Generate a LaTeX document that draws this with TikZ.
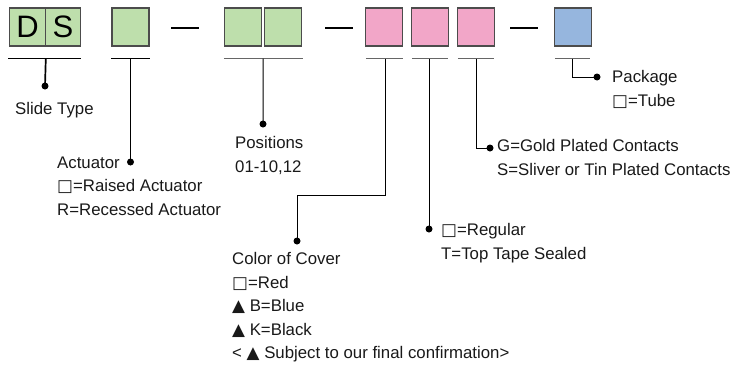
\documentclass[tikz,border=0pt]{standalone}
\usepackage{fontspec}
\setmainfont{Liberation Sans}
\newfontfamily\symfont{DejaVu Sans}
\usepackage{xcolor}
\usepackage{tikz}
\usetikzlibrary{positioning,calc}
\definecolor{codegreen}{RGB}{190,223,172}
\definecolor{codepink}{RGB}{242,166,200}
\definecolor{codeblue}{RGB}{150,182,222}
\newcommand{\blankcode}{{\symfont □}}
\newcommand{\tricode}{{\symfont ▲}}
\tikzset{
  codebox/.style={draw=black!70,line width=1.1pt,minimum width=37pt,minimum height=38pt,inner sep=0pt},
  letterbox/.style={codebox,minimum width=35.5pt,fill=codegreen,font=\fontsize{31}{31}\selectfont},
  greenbox/.style={codebox,fill=codegreen},
  pinkbox/.style={codebox,fill=codepink},
  bluebox/.style={codebox,fill=codeblue},
  boldrule/.style={line width=1.8pt},
  thinrule/.style={line width=1.3pt,draw=black!60},
  dashbar/.style={line width=1.8pt},
  boldleader/.style={line width=1.7pt},
  leader/.style={line width=1pt},
  enddot/.style={circle,fill=black,inner sep=0pt,minimum size=7pt},
  legend/.style={font=\fontsize{16.8}{23.5}\selectfont,align=left,anchor=north west,
    inner sep=0pt,text=black!90,execute at begin node=\strut}
}

\begin{document}
\begin{tikzpicture}[x=1pt,y=-1pt]
  \useasboundingbox (0,0) rectangle (744,370);
  % code boxes
  \node[letterbox] (d) at (27.5,27) {D};
  \node[letterbox] (s) at (63,27) {S};
  \node[greenbox] (act) at (130.5,27) {};
  \node[greenbox] (pos1) at (243,27) {};
  \node[greenbox] (pos2) at (283,27) {};
  \node[pinkbox] (col) at (384,27) {};
  \node[pinkbox] (seal) at (430,27) {};
  \node[pinkbox] (plate) at (476,27) {};
  \node[bluebox] (pkg) at (573,27) {};
  \draw[dashbar] (171,28) -- (199,28);
  \draw[dashbar] (325,28) -- (353,28);
  \draw[dashbar] (510,28) -- (538,28);
  % underlines
  \draw[boldrule] ($(d.south west)+(-1,12)$) -- ($(s.south east)+(0,12)$);
  \draw[boldrule] ($(act.south west)+(0,12)$) -- ($(act.south east)+(0,12)$);
  \draw[thinrule] ($(pos1.south west)+(0,12)$) -- ($(pos2.south east)+(1,12)$);
  \draw[thinrule] ($(col.south west)+(1,12)$) -- ($(col.south east)+(0,12)$);
  \draw[thinrule] ($(seal.south west)+(1,12)$) -- ($(seal.south east)+(-1,12)$);
  \draw[thinrule] ($(plate.south west)+(1,12)$) -- ($(plate.south east)+(-1,12)$);
  \draw[thinrule] ($(pkg.south west)+(1,12)$) -- ($(pkg.south east)+(-2,12)$);
  \coordinate (ds-tap) at ($(d.south east)+(0,12)$);
  \coordinate (act-tap) at ($(act.south)+(0,12)$);
  \coordinate (pos-tap) at ($(pos1.south east)!0.5!(pos2.south west)+(0,12)$);
  \coordinate (col-tap) at ($(col.south)+(1,12)$);
  \coordinate (seal-tap) at ($(seal.south)+(-1,12)$);
  \coordinate (plate-tap) at ($(plate.south)+(0,12)$);
  \coordinate (pkg-tap) at ($(pkg.south)+(-1,12)$);
  % dots
  \node[enddot] (ds-dot) at (45,86) {};
  \node[enddot] (act-dot) at (130.5,162) {};
  \node[enddot] (pos-dot) at (263,124) {};
  \coordinate (col-bend) at (297,195);
  \node[enddot] (col-dot) at (297,241) {};
  \node[enddot] (seal-dot) at (429,229) {};
  \node[enddot] (plate-dot) at (490,148) {};
  \node[enddot] (pkg-dot) at (597,77) {};
  % leaders
  \draw[boldleader] (ds-tap) -- (ds-dot.center);
  \draw[boldleader] (act-tap) -- (act-dot.center);
  \draw[leader] (pos-tap) -- (pos-dot.center);
  \draw[leader] (col-tap) |- (col-bend) -- (col-dot.center);
  \draw[leader] (seal-tap) -- (seal-dot.center);
  \draw[leader] (plate-tap) |- (plate-dot.center);
  \draw[leader] (pkg-tap) |- (pkg-dot.center);
  % legends
  \node[legend] (slide) at (15,97.5) {Slide Type};
  \node[legend] (actuator) at (57,156.5) {Actuator\\\blankcode=Raised Actuator\\R=Recessed Actuator};
  \node[legend] (positions) at (235,136.5) {Positions\\01-10,12};
  \node[legend] (cover) at (232,252.5) {Color of Cover\\\blankcode=Red\\\tricode{} B=Blue\\\tricode{} K=Black\\< \tricode{} Subject to our final confirmation>};
  \node[legend] (sealing) at (441,223.5) {\blankcode=Regular\\T=Top Tape Sealed};
  \node[legend] (plating) at (497,139.5) {G=Gold Plated Contacts\\S=Sliver or Tin Plated Contacts};
  \node[legend] (package) at (612,70.5) {Package\\\blankcode=Tube};
\end{tikzpicture}
\end{document}
